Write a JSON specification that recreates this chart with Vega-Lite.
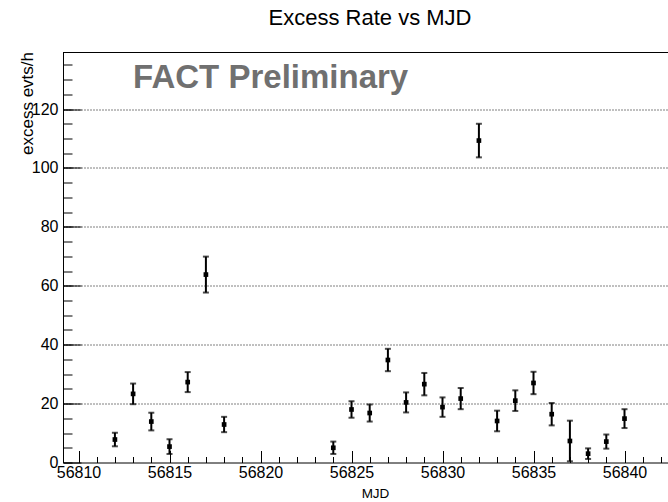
{
  "$schema": "https://vega.github.io/schema/vega-lite/v6.json",
  "width": 605,
  "height": 410,
  "autosize": {"type": "none"},
  "padding": {"left": 63, "top": 52.5, "right": 0, "bottom": 39.5},
  "background": "white",
  "config": {
    "view": {"stroke": null},
    "font": "Liberation Sans",
    "axis": {"labelOverlap": false, "labelBound": false, "labelFlush": false}
  },
  "title": {
    "text": "Excess Rate vs MJD",
    "font": "Liberation Sans",
    "fontSize": 22,
    "fontWeight": "normal",
    "color": "black",
    "anchor": "middle",
    "frame": "group",
    "offset": 26.5,
    "baseline": "alphabetic",
    "dx": 4.5,
    "dy": 22
  },
  "datasets": {
    "points": [
      {"mjd": 56812, "rate": 7.8, "err": 2.3},
      {"mjd": 56813, "rate": 23.3, "err": 3.5},
      {"mjd": 56814, "rate": 13.9, "err": 3.0},
      {"mjd": 56815, "rate": 5.4, "err": 2.5},
      {"mjd": 56816, "rate": 27.3, "err": 3.4},
      {"mjd": 56817, "rate": 63.8, "err": 6.1},
      {"mjd": 56818, "rate": 12.9, "err": 2.6},
      {"mjd": 56824, "rate": 5.0, "err": 2.1},
      {"mjd": 56825, "rate": 18.0, "err": 2.8},
      {"mjd": 56826, "rate": 16.8, "err": 2.9},
      {"mjd": 56827, "rate": 34.8, "err": 3.8},
      {"mjd": 56828, "rate": 20.4, "err": 3.4},
      {"mjd": 56829, "rate": 26.6, "err": 3.8},
      {"mjd": 56830, "rate": 18.8, "err": 3.3},
      {"mjd": 56831, "rate": 21.7, "err": 3.6},
      {"mjd": 56832, "rate": 109.3, "err": 5.7},
      {"mjd": 56833, "rate": 14.1, "err": 3.5},
      {"mjd": 56834, "rate": 21.0, "err": 3.5},
      {"mjd": 56835, "rate": 27.0, "err": 3.8},
      {"mjd": 56836, "rate": 16.4, "err": 3.8},
      {"mjd": 56837, "rate": 7.3, "err": 6.9},
      {"mjd": 56838, "rate": 3.0, "err": 1.8},
      {"mjd": 56839, "rate": 7.1, "err": 2.4},
      {"mjd": 56840, "rate": 14.9, "err": 3.2}
    ],
    "label": [{"text": "FACT Preliminary"}],
    "frame": [{"top": 139.2}]
  },
  "resolve": {"axis": {"x": "independent", "y": "independent"}},
  "layer": [
    {
      "data": {"name": "points"},
      "mark": {"type": "errorbar", "ticks": {"size": 6, "thickness": 2, "color": "black"}, "thickness": 2, "color": "black"},
      "encoding": {
        "x": {
          "field": "mjd",
          "type": "quantitative",
          "scale": {"domain": [56809.148, 56842.39], "zero": false, "nice": false},
          "axis": {
            "orient": "bottom",
            "title": "MJD",
            "values": [56810, 56815, 56820, 56825, 56830, 56835, 56840],
            "format": "d",
            "tickSize": -12,
            "tickColor": "black",
            "tickWidth": 1,
            "domainColor": "black",
            "domainWidth": 1,
            "grid": false,
            "labelFont": "Liberation Sans",
            "labelFontSize": 16,
            "labelColor": "black",
            "labelPadding": 14,
            "labelFlush": false,
            "labelOverlap": false,
            "labelBound": false,
            "titleFont": "Liberation Sans",
            "titleFontSize": 13.5,
            "titleFontWeight": "normal",
            "titleColor": "black",
            "titleX": 312,
            "titleY": 35,
            "titleAlign": "center",
            "titleBaseline": "alphabetic"
          }
        },
        "y": {
          "field": "rate",
          "type": "quantitative",
          "scale": {"domain": [0, 139.2], "nice": false, "zero": false},
          "axis": {
            "orient": "left",
            "title": "excess evts/h",
            "values": [0, 20, 40, 60, 80, 100, 120],
            "format": "d",
            "tickSize": -18,
            "tickColor": "black",
            "tickWidth": 1,
            "domainColor": "black",
            "domainWidth": 1,
            "grid": true,
            "gridDash": [1, 2],
            "gridColor": "black",
            "gridWidth": 1,
            "gridOpacity": {"condition": {"test": "datum.value > 0", "value": 1}, "value": 0},
            "labelFont": "Liberation Sans",
            "labelFontSize": 16,
            "labelColor": "black",
            "labelPadding": 23,
            "labelFlush": false,
            "labelOverlap": false,
            "labelBound": false,
            "labelBaseline": "middle",
            "titleFont": "Liberation Sans",
            "titleFontSize": 17,
            "titleFontWeight": "normal",
            "titleColor": "black",
            "titleAngle": -90,
            "titleX": -31,
            "titleY": -1,
            "titleAlign": "right",
            "titleBaseline": "alphabetic"
          }
        },
        "yError": {"field": "err"}
      }
    },
    {
      "data": {"name": "points"},
      "mark": {"type": "square", "size": 22, "color": "black", "opacity": 1, "filled": true},
      "encoding": {
        "x": {
          "field": "mjd",
          "type": "quantitative",
          "axis": {
            "orient": "bottom",
            "title": null,
            "values": [56810, 56811, 56812, 56813, 56814, 56815, 56816, 56817, 56818, 56819, 56820, 56821, 56822, 56823, 56824, 56825, 56826, 56827, 56828, 56829, 56830, 56831, 56832, 56833, 56834, 56835, 56836, 56837, 56838, 56839, 56840, 56841, 56842],
            "labels": false,
            "domain": false,
            "grid": false,
            "tickSize": -6,
            "tickColor": "black",
            "tickWidth": 1
          }
        },
        "y": {
          "field": "rate",
          "type": "quantitative",
          "axis": {
            "orient": "left",
            "title": null,
            "values": [0, 5, 10, 15, 20, 25, 30, 35, 40, 45, 50, 55, 60, 65, 70, 75, 80, 85, 90, 95, 100, 105, 110, 115, 120, 125, 130, 135],
            "labels": false,
            "domain": false,
            "grid": false,
            "tickSize": -9,
            "tickColor": "black",
            "tickWidth": 1
          }
        }
      }
    },
    {
      "data": {"name": "frame"},
      "mark": {"type": "rule", "color": "black", "strokeWidth": 1},
      "encoding": {
        "y": {"field": "top", "type": "quantitative", "axis": null}
      }
    },
    {
      "data": {"name": "label"},
      "mark": {"type": "text", "font": "Liberation Sans", "fontWeight": "bold", "fontSize": 33, "color": "#707070", "align": "left", "baseline": "alphabetic"},
      "encoding": {
        "x": {"datum": 56813.0, "axis": null},
        "y": {"datum": 127, "axis": null},
        "text": {"field": "text"}
      }
    }
  ]
}
